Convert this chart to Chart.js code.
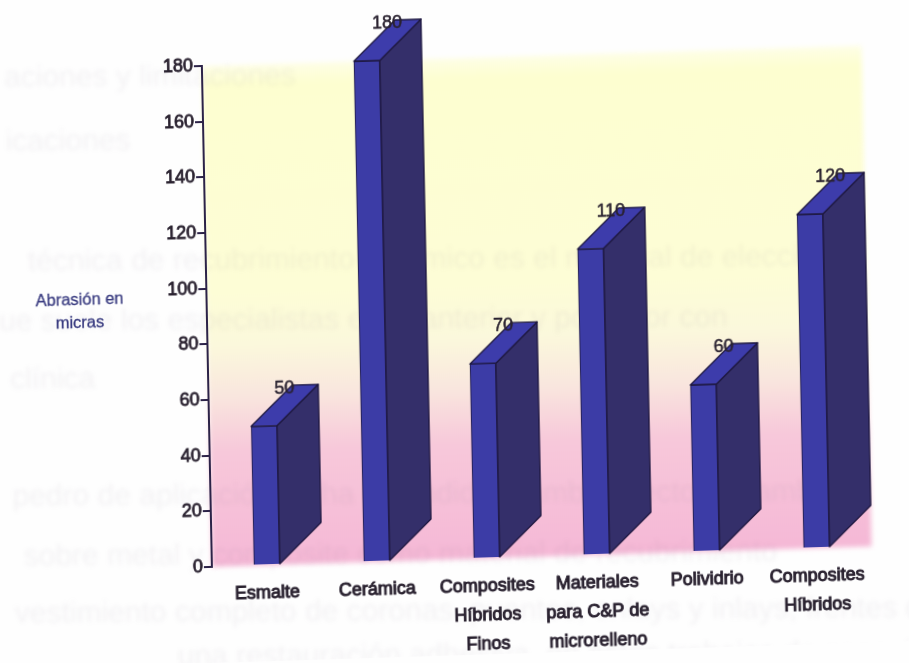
<!DOCTYPE html>
<html lang="es">
<head>
<meta charset="utf-8">
<title>Abrasión en micras</title>
<script src="https://cdn.jsdelivr.net/npm/chart.js@4/dist/chart.umd.min.js"></script>
<style>
    html, body { margin: 0; padding: 0; background: #fefefe; overflow: hidden; }
    #wrap { width: 909px; height: 663px; overflow: hidden; }
    /* printed page sits slightly askew on the scanner */
    #abrasion {
        display: block;
        transform-origin: 212px 567px;
        transform: matrix(1, -0.031, 0.02, 1, 0, 0);
    }
</style>
</head>
<body>
<div id="wrap"><canvas id="abrasion" width="909" height="663"></canvas></div>
<script>
const categories = [
    'Esmalte',
    'Cerámica',
    ['Composites', 'Híbridos', 'Finos'],
    ['Materiales', 'para C&P de', 'microrelleno'],
    'Polividrio',
    ['Composites', 'Híbridos']
];
const abrasionValues = [50, 180, 70, 110, 60, 120];
const yTicks = [0, 20, 40, 60, 80, 100, 120, 140, 160, 180];
const yTitleLines = ['Abrasión en', 'micras'];

// text showing through from the other side of the sheet: text, x, y
const backPageLines = [
    ['aciones y limitaciones', 14, 72],
    ['icaciones', 14, 136],
    ['técnica de recubrimiento cerámico es el material de elección', 34, 256],
    ['ue suele los especialistas en el anterior y posterior con', 4, 316],
    ['clínica', 14, 374],
    ['pedro de aplicación se ha extendido a ambos sectores también', 14, 491],
    ['sobre metal y composite como material de recubrimiento', 24, 551],
    ['vestimiento completo de coronas, puentes, onlays y inlays, frentes de', 14, 608],
    ['una restauración adhesiva, en estos trabajos de capacidades', 176, 652]
];

const FONT = '"Liberation Sans", Arial, sans-serif';
const INK = '#2a2230';
const AXIS_COLOR = '#2c2348';
const FRONT_COLOR = '#3c3ca6';
const SIDE_COLOR = '#342f6a';
const TOP_COLOR = '#3d3cab';
const EDGE_COLOR = '#1e1840';
const DEPTH_X = 42;
const DEPTH_Y = -40;

function poly(ctx, pts, fill) {
    ctx.beginPath();
    ctx.moveTo(pts[0][0], pts[0][1]);
    for (let i = 1; i < pts.length; i++) ctx.lineTo(pts[i][0], pts[i][1]);
    ctx.closePath();
    ctx.fillStyle = fill;
    ctx.fill();
    ctx.stroke();
}

// yellow to pink panel behind the bars, with soft printed edges
const panelPlugin = {
    id: 'panel',
    beforeDraw(chart) {
        const { ctx, chartArea: a } = chart;
        const g = ctx.createLinearGradient(0, a.top, 0, a.bottom);
        g.addColorStop(0, '#fefee6');
        g.addColorStop(0.04, '#fdfed0');
        g.addColorStop(0.45, '#fdfdd6');
        g.addColorStop(0.56, '#fbf8dc');
        g.addColorStop(0.66, '#f9e6de');
        g.addColorStop(0.77, '#f7c8da');
        g.addColorStop(1, '#f5b8d6');
        ctx.save();
        ctx.filter = 'blur(2.5px)';
        ctx.fillStyle = g;
        ctx.fillRect(a.left, a.top, a.right - a.left, a.bottom - a.top);

        // back page runs almost level, so undo most of the sheet's slope
        ctx.transform(1, 0.025, 0, 1, 0, 0);
        ctx.filter = 'blur(2.2px)';
        ctx.fillStyle = 'rgba(110, 100, 125, 0.08)';
        ctx.textBaseline = 'middle';
        ctx.font = '30px ' + FONT;
        backPageLines.forEach(function (l) {
            ctx.fillText(l[0], l[1], l[2]);
        });
        ctx.restore();
    }
};

// side and top faces of each bar, plus its value label
const depthPlugin = {
    id: 'depth',
    afterDatasetsDraw(chart) {
        const ctx = chart.ctx;
        const bars = chart.getDatasetMeta(0).data;
        ctx.save();
        bars.forEach(function (bar, i) {
            const l = bar.x - bar.width / 2;
            const r = bar.x + bar.width / 2;
            const t = bar.y;
            const b = bar.base;
            ctx.strokeStyle = EDGE_COLOR;
            ctx.lineWidth = 1.3;
            ctx.lineJoin = 'round';
            poly(ctx, [[r, t], [r + DEPTH_X, t + DEPTH_Y], [r + DEPTH_X, b + DEPTH_Y], [r, b]], SIDE_COLOR);
            poly(ctx, [[l, t], [l + DEPTH_X, t + DEPTH_Y], [r + DEPTH_X, t + DEPTH_Y], [r, t]], TOP_COLOR);

            ctx.fillStyle = INK;
            ctx.strokeStyle = INK;
            ctx.lineWidth = 0.5;
            ctx.font = '18px ' + FONT;
            ctx.textAlign = 'center';
            ctx.textBaseline = 'middle';
            const label = String(abrasionValues[i]);
            ctx.fillText(label, bar.x + 21, t + DEPTH_Y + 3);
            ctx.strokeText(label, bar.x + 21, t + DEPTH_Y + 3);
        });
        ctx.restore();
    }
};

// unrotated heading left of the value axis
const yTitlePlugin = {
    id: 'yTitle',
    afterDraw(chart) {
        const ctx = chart.ctx;
        const a = chart.chartArea;
        ctx.save();
        ctx.fillStyle = '#3a3c80';
        ctx.strokeStyle = '#3a3c80';
        ctx.lineWidth = 0.3;
        ctx.font = '16.5px ' + FONT;
        ctx.textAlign = 'center';
        ctx.textBaseline = 'middle';
        yTitleLines.forEach(function (line, i) {
            ctx.fillText(line, a.left - 127, 296 + i * 23);
            ctx.strokeText(line, a.left - 127, 296 + i * 23);
        });
        ctx.restore();
    }
};

new Chart(document.getElementById('abrasion'), {
    type: 'bar',
    data: {
        labels: categories,
        datasets: [{
            data: abrasionValues,
            backgroundColor: FRONT_COLOR,
            borderColor: EDGE_COLOR,
            borderWidth: 1,
            barThickness: 26
        }]
    },
    options: {
        responsive: false,
        animation: false,
        devicePixelRatio: 1,
        layout: { padding: { top: 66, right: 37, bottom: 0, left: 0 } },
        plugins: {
            legend: { display: false },
            title: { display: false },
            tooltip: { enabled: false }
        },
        scales: {
            x: {
                grid: { display: false },
                border: { display: false },
                ticks: {
                    color: INK,
                    maxRotation: 0,
                    autoSkip: false,
                    padding: 5,
                    textStrokeColor: INK,
                    textStrokeWidth: 1,
                    font: { family: FONT, size: 18, lineHeight: 1.62 }
                },
                afterFit: function (scale) { scale.height = 96; }
            },
            y: {
                min: 0,
                max: 180,
                afterBuildTicks: function (scale) {
                    scale.ticks = yTicks.map(function (v) { return { value: v }; });
                },
                grid: { drawOnChartArea: false, drawTicks: true, tickLength: 8, color: AXIS_COLOR, lineWidth: 2 },
                border: { display: true, color: AXIS_COLOR, width: 2 },
                ticks: {
                    color: INK,
                    padding: 1,
                    textStrokeColor: INK,
                    textStrokeWidth: 0.8,
                    font: { family: FONT, size: 18 }
                },
                afterFit: function (scale) { scale.width = 212; }
            }
        }
    },
    plugins: [panelPlugin, depthPlugin, yTitlePlugin]
});
</script>
</body>
</html>
